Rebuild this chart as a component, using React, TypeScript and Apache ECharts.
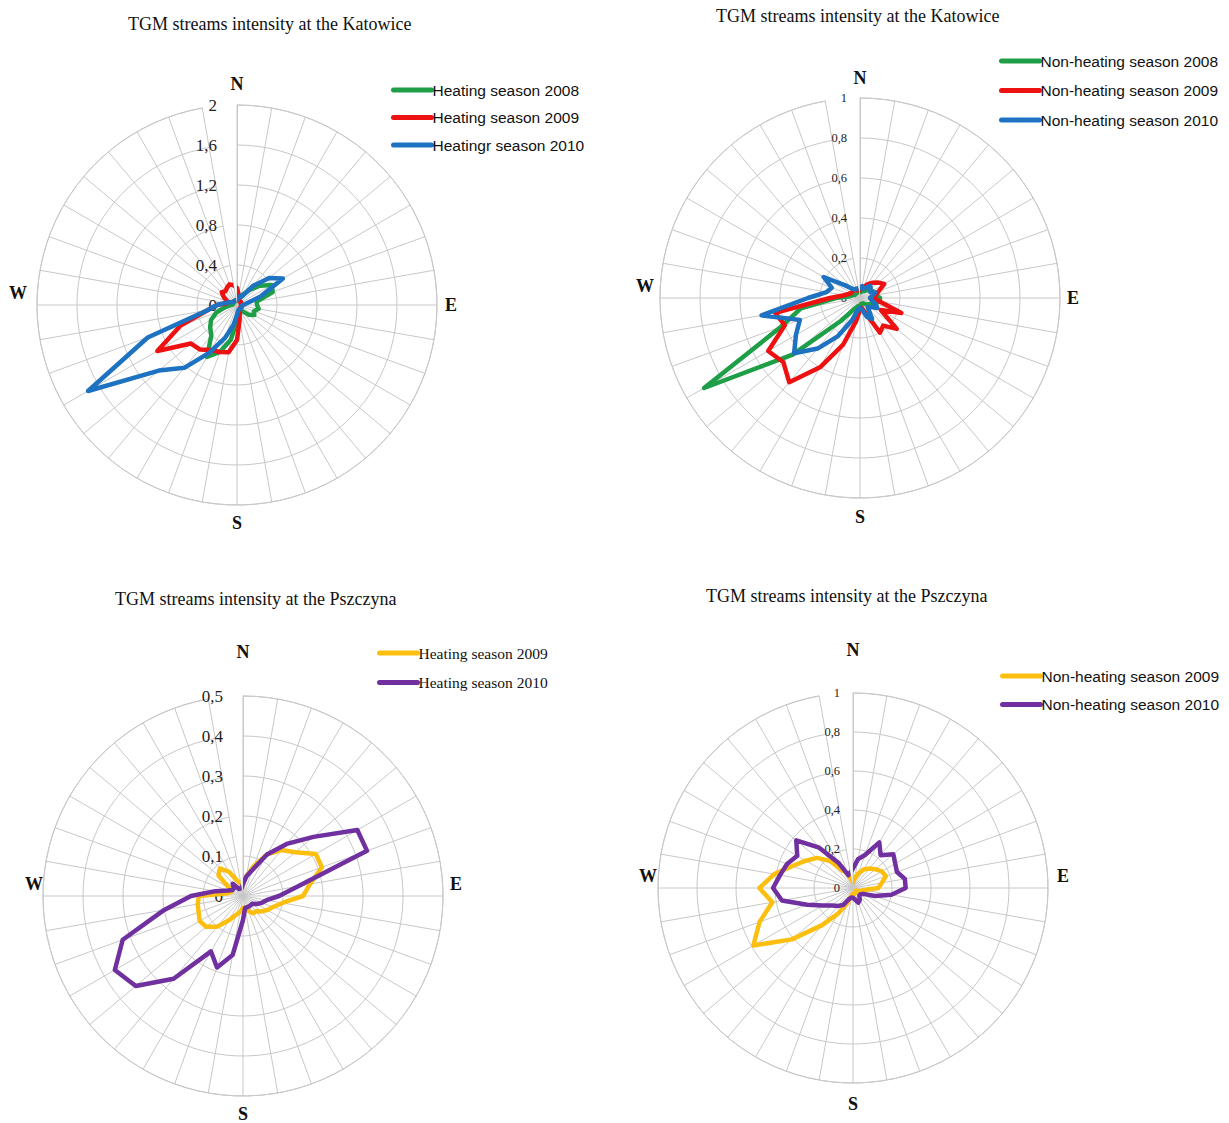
import React, { useEffect, useRef } from "react";
import * as echarts from "echarts";

// Wind directions, clockwise from north, every 10 degrees
const directions = [
  "0", "10", "20", "30", "40", "50", "60", "70", "80",
  "90", "100", "110", "120", "130", "140", "150", "160", "170",
  "180", "190", "200", "210", "220", "230", "240", "250", "260",
  "270", "280", "290", "300", "310", "320", "330", "340", "350",
];
const compass: Record<string, string> = { "0": "N", "90": "E", "180": "S", "270": "W" };

// Katowice, heating seasons
const katHeat2008 = [0.05, 0.05, 0.08, 0.12, 0.2, 0.3, 0.4, 0.38, 0.2, 0.2, 0.22, 0.18, 0.2, 0.15, 0.08, 0.06, 0.06, 0.08, 0.15, 0.35, 0.5, 0.6, 0.4, 0.35, 0.3, 0.22, 0.12, 0.06, 0.04, 0.04, 0.04, 0.04, 0.04, 0.04, 0.04, 0.04];
const katHeat2009 = [0.17, 0.1, 0.06, 0.05, 0.05, 0.05, 0.04, 0.04, 0.04, 0.04, 0.05, 0.05, 0.05, 0.04, 0.04, 0.05, 0.08, 0.15, 0.35, 0.48, 0.5, 0.52, 0.58, 0.6, 0.92, 0.6, 0.3, 0.2, 0.1, 0.1, 0.15, 0.2, 0.18, 0.2, 0.22, 0.2];
const katHeat2010 = [0.05, 0.06, 0.1, 0.1, 0.25, 0.42, 0.53, 0.25, 0.1, 0.06, 0.05, 0.05, 0.05, 0.05, 0.05, 0.05, 0.05, 0.06, 0.1, 0.2, 0.35, 0.55, 0.82, 1.02, 1.72, 0.95, 0.3, 0.2, 0.12, 0.08, 0.06, 0.05, 0.05, 0.05, 0.05, 0.05];

// Katowice, non-heating seasons
const katNon2008 = [0.03, 0.03, 0.04, 0.04, 0.05, 0.06, 0.07, 0.08, 0.08, 0.1, 0.1, 0.08, 0.06, 0.05, 0.04, 0.03, 0.03, 0.03, 0.04, 0.04, 0.05, 0.07, 0.15, 0.44, 0.9, 0.42, 0.3, 0.12, 0.05, 0.04, 0.03, 0.03, 0.03, 0.03, 0.03, 0.03];
const katNon2009 = [0.04, 0.05, 0.06, 0.08, 0.1, 0.12, 0.14, 0.1, 0.08, 0.07, 0.1, 0.22, 0.12, 0.24, 0.18, 0.2, 0.08, 0.05, 0.06, 0.12, 0.25, 0.4, 0.55, 0.5, 0.53, 0.4, 0.43, 0.15, 0.08, 0.06, 0.05, 0.05, 0.05, 0.05, 0.04, 0.04];
const katNon2010 = [0.05, 0.06, 0.05, 0.06, 0.08, 0.07, 0.06, 0.08, 0.06, 0.05, 0.06, 0.08, 0.1, 0.07, 0.06, 0.12, 0.1, 0.06, 0.05, 0.06, 0.12, 0.22, 0.33, 0.43, 0.37, 0.32, 0.5, 0.26, 0.17, 0.15, 0.21, 0.1, 0.06, 0.05, 0.05, 0.05];

// Pszczyna, heating seasons
const pszHeat2009 = [0.04, 0.05, 0.08, 0.12, 0.15, 0.17, 0.21, 0.21, 0.17, 0.15, 0.1, 0.08, 0.07, 0.06, 0.05, 0.05, 0.04, 0.03, 0.03, 0.04, 0.05, 0.07, 0.1, 0.12, 0.125, 0.118, 0.115, 0.11, 0.04, 0.03, 0.04, 0.08, 0.09, 0.07, 0.04, 0.03];
const pszHeat2010 = [0.03, 0.05, 0.07, 0.12, 0.17, 0.23, 0.33, 0.33, 0.14, 0.09, 0.06, 0.05, 0.04, 0.03, 0.03, 0.03, 0.03, 0.03, 0.06, 0.15, 0.19, 0.16, 0.27, 0.35, 0.37, 0.32, 0.2, 0.13, 0.07, 0.04, 0.03, 0.03, 0.04, 0.02, 0.02, 0.02];

// Pszczyna, non-heating seasons
const pszNon2009 = [0.03, 0.05, 0.08, 0.11, 0.13, 0.15, 0.17, 0.18, 0.15, 0.13, 0.06, 0.04, 0.03, 0.02, 0.02, 0.03, 0.03, 0.03, 0.03, 0.04, 0.08, 0.15, 0.25, 0.41, 0.59, 0.51, 0.42, 0.48, 0.41, 0.33, 0.28, 0.24, 0.18, 0.1, 0.08, 0.04];
const pszNon2010 = [0.1, 0.15, 0.18, 0.27, 0.22, 0.27, 0.25, 0.24, 0.27, 0.27, 0.2, 0.12, 0.06, 0.05, 0.05, 0.07, 0.08, 0.06, 0.05, 0.05, 0.06, 0.1, 0.12, 0.14, 0.18, 0.25, 0.37, 0.41, 0.38, 0.36, 0.33, 0.38, 0.27, 0.15, 0.07, 0.08];

const GREEN = "#1f9e48";
const RED = "#ee1111";
const BLUE = "#1d72c2";
const YELLOW = "#fcbf0f";
const PURPLE = "#7030a0";
const GRID = "#c8c8c8";
const SERIF = "Liberation Serif";
const SANS = "Liberation Sans";

type Panel = {
  title: string;
  titleLeft: number;
  titleTop: number;
  center: [number, number];
  radius: number;
  max: number;
  interval: number;
  tickSize: number;
  tickMargin: number;
  pad: { n: number; e: number; s: number; w: number; eUp: number; wUp: number };
  legendLeft: number;
  legendTop: number;
  legendGap: number;
  legendFont: string;
  series: { key: string; label: string; data: number[]; color: string }[];
};

const panels: Panel[] = [
  {
    title: "TGM streams intensity at the Katowice",
    titleLeft: 128, titleTop: 15,
    center: [237, 305], radius: 200, max: 2, interval: 0.4,
    tickSize: 17, tickMargin: 20,
    pad: { n: 12, e: 8, s: 9, w: 10, eUp: 0, wUp: 12 },
    legendLeft: 391, legendTop: 82, legendGap: 11.5, legendFont: SANS,
    series: [
      { key: "a1", label: "Heating season 2008", data: katHeat2008, color: GREEN },
      { key: "a2", label: "Heating season 2009", data: katHeat2009, color: RED },
      { key: "a3", label: "Heatingr season 2010", data: katHeat2010, color: BLUE },
    ],
  },
  {
    title: "TGM streams intensity at the Katowice",
    titleLeft: 716, titleTop: 7,
    center: [860, 298], radius: 200, max: 1, interval: 0.2,
    tickSize: 12.5, tickMargin: 13,
    pad: { n: 11, e: 7, s: 10, w: 6, eUp: 0, wUp: 12 },
    legendLeft: 999, legendTop: 53, legendGap: 13.5, legendFont: SANS,
    series: [
      { key: "b1", label: "Non-heating season 2008", data: katNon2008, color: GREEN },
      { key: "b2", label: "Non-heating season 2009", data: katNon2009, color: RED },
      { key: "b3", label: "Non-heating season 2010", data: katNon2010, color: BLUE },
    ],
  },
  {
    title: "TGM streams intensity at the Pszczyna",
    titleLeft: 115, titleTop: 590,
    center: [243, 896], radius: 200, max: 0.5, interval: 0.1,
    tickSize: 17, tickMargin: 20,
    pad: { n: 35, e: 7, s: 9, w: 0, eUp: 12, wUp: 12 },
    legendLeft: 377, legendTop: 645, legendGap: 13.5, legendFont: SERIF,
    series: [
      { key: "c1", label: "Heating season 2009", data: pszHeat2009, color: YELLOW },
      { key: "c2", label: "Heating season 2010", data: pszHeat2010, color: PURPLE },
    ],
  },
  {
    title: "TGM streams intensity at the Pszczyna",
    titleLeft: 706, titleTop: 587,
    center: [853, 888], radius: 195, max: 1, interval: 0.2,
    tickSize: 12.5, tickMargin: 13,
    pad: { n: 34, e: 9, s: 12, w: 1, eUp: 12, wUp: 12 },
    legendLeft: 1000, legendTop: 668, legendGap: 12.5, legendFont: SANS,
    series: [
      { key: "d1", label: "Non-heating season 2009", data: pszNon2009, color: YELLOW },
      { key: "d2", label: "Non-heating season 2010", data: pszNon2010, color: PURPLE },
    ],
  },
];

const labelOf: Record<string, string> = {};
panels.forEach((p) => p.series.forEach((s) => (labelOf[s.key] = s.label)));

function buildOption() {
  const compassText = { fontFamily: SERIF, fontWeight: "bold" as const, fontSize: 18, color: "#111" };
  return {
    animation: false,
    backgroundColor: "#ffffff",
    textStyle: { fontFamily: SERIF },
    title: panels.map((p) => ({
      text: p.title,
      left: p.titleLeft,
      top: p.titleTop,
      padding: 0,
      textStyle: { fontFamily: SERIF, fontSize: 18, fontWeight: "normal", color: "#111" },
    })),
    legend: panels.map((p) => ({
      left: p.legendLeft,
      top: p.legendTop,
      orient: "vertical",
      padding: 0,
      itemWidth: 38,
      itemHeight: 5,
      itemGap: p.legendGap,
      selectedMode: false,
      lineStyle: { width: 5, cap: "round" },
      data: p.series.map((s) => s.key),
      formatter: (name: string) => labelOf[name] || name,
      textStyle: { fontFamily: p.legendFont, fontSize: 15.5, color: "#111", padding: [0, 0, 0, -4] },
    })),
    polar: panels.map((p) => ({ center: p.center, radius: p.radius })),
    angleAxis: panels.map((p, i) => ({
      polarIndex: i,
      type: "category",
      data: directions,
      boundaryGap: false,
      startAngle: 90,
      clockwise: true,
      axisLine: { show: true, lineStyle: { color: GRID, width: 1 } },
      axisTick: { show: false },
      splitLine: { show: true, interval: 0, lineStyle: { color: GRID, width: 1 } },
      axisLabel: {
        interval: 0,
        margin: 0,
        formatter: (v: string) => {
          const c = compass[v];
          return c ? `{${c.toLowerCase()}|${c}}` : "";
        },
        rich: {
          n: { ...compassText, padding: [0, 0, p.pad.n, 0] },
          e: { ...compassText, padding: [0, 0, p.pad.eUp * 2, p.pad.e] },
          s: { ...compassText, padding: [p.pad.s, 0, 0, 0] },
          w: { ...compassText, padding: [0, p.pad.w, p.pad.wUp * 2, 0] },
        },
      },
    })),
    radiusAxis: panels.map((p, i) => ({
      polarIndex: i,
      type: "value",
      min: 0,
      max: p.max,
      interval: p.interval,
      axisLine: { show: true, lineStyle: { color: GRID, width: 1 } },
      axisTick: { show: false },
      splitLine: { show: true, lineStyle: { color: GRID, width: 1 } },
      axisLabel: {
        margin: p.tickMargin,
        fontFamily: SERIF,
        fontSize: p.tickSize,
        color: "#222",
        formatter: (v: number) => String(parseFloat(v.toFixed(2))).replace(".", ","),
      },
    })),
    series: panels.flatMap((p, i) =>
      p.series.map((s) => ({
        type: "line",
        name: s.key,
        coordinateSystem: "polar",
        polarIndex: i,
        symbol: "none",
        smooth: false,
        color: s.color,
        itemStyle: { color: s.color },
        lineStyle: { color: s.color, width: 4.5, join: "round", cap: "round" },
        data: [...s.data.map((v, k) => [v, k]), [s.data[0], 0]],
      }))
    ),
  };
}

export default function App() {
  const ref = useRef<HTMLDivElement>(null);
  useEffect(() => {
    if (!ref.current) return;
    const chart = echarts.init(ref.current, undefined, { renderer: "svg" });
    chart.setOption(buildOption() as any);
    return () => chart.dispose();
  }, []);
  return (
    <div
      ref={ref}
      style={{ position: "absolute", left: 0, top: 0, width: 1229, height: 1123, background: "#fff" }}
    />
  );
}
